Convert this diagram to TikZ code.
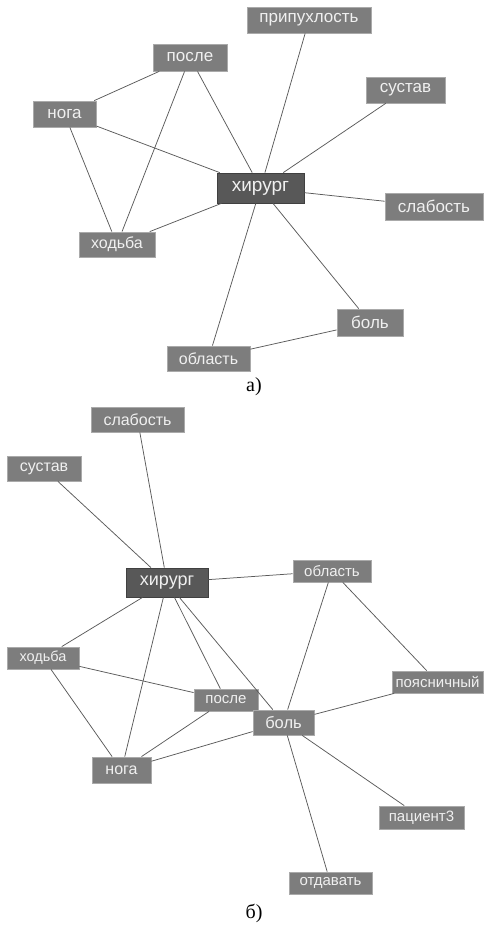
\documentclass[tikz,border=0pt]{standalone}
\usepackage{fontspec}
\setmainfont{Liberation Serif}
\setsansfont{Liberation Sans}
\usetikzlibrary{positioning}
\definecolor{boxgris}{RGB}{125,125,125}
\definecolor{bordgris}{RGB}{170,170,170}
\definecolor{centregris}{RGB}{88,88,88}
\definecolor{liengris}{RGB}{90,90,90}
\definecolor{textegris}{RGB}{240,240,240}
\newcommand{\boxfont}[1]{\sffamily\fontsize{#1}{#1}\selectfont}

\begin{document}
\begin{tikzpicture}[x=1pt, y=-1pt,
    box/.style={draw=bordgris, fill=boxgris, text=textegris, inner sep=0pt, line width=0.8pt},
    hub/.style={draw=black!75, fill=centregris, text=textegris, inner sep=0pt, line width=0.8pt},
    lien/.style={draw=liengris, line width=0.75pt}
]
\useasboundingbox (0,0) rectangle (483,925);

% Panel a
\node[box, minimum width=124, minimum height=26, font=\boxfont{17}] (pripux) at (309,20) {припухлость};
\node[box, minimum width=74, minimum height=27, font=\boxfont{17}] (posle) at (190,57.5) {после};
\node[box, minimum width=79, minimum height=26, font=\boxfont{17}] (sustav) at (405.5,90) {сустав};
\node[box, minimum width=63, minimum height=26, font=\boxfont{17}] (noga) at (64.5,114) {нога};
\node[hub, minimum width=87, minimum height=30, font=\boxfont{19}] (hirurg) at (260.5,188) {хирург};
\node[box, minimum width=98, minimum height=27, font=\boxfont{17}] (slab) at (434,206.5) {слабость};
\node[box, minimum width=76, minimum height=25, font=\boxfont{16}] (hodba) at (117,244.5) {ходьба};
\node[box, minimum width=66, minimum height=27, font=\boxfont{17}] (bol) at (370,322.5) {боль};
\node[box, minimum width=83, minimum height=25, font=\boxfont{16}] (oblast) at (208.5,358.5) {область};
\node[font=\fontsize{20}{20}\selectfont] (capa) at (254,387) {а)};

\draw[lien] (noga) -- (posle);
\draw[lien] (noga) -- (hirurg);
\draw[lien] (noga) -- (hodba);
\draw[lien] (posle) -- (hodba);
\draw[lien] (posle) -- (hirurg);
\draw[lien] (pripux) -- (hirurg);
\draw[lien] (sustav) -- (hirurg);
\draw[lien] (hirurg) -- (slab);
\draw[lien] (hirurg) -- (hodba);
\draw[lien] (hirurg) -- (oblast);
\draw[lien] (hirurg) -- (bol);
\draw[lien] (bol) -- (oblast);

% Panel b
\node[box, minimum width=93, minimum height=25, font=\boxfont{16}] (slabb) at (137.5,419.5) {слабость};
\node[box, minimum width=74, minimum height=25, font=\boxfont{16}] (sustavb) at (44,468.5) {сустав};
\node[hub, minimum width=82, minimum height=29, font=\boxfont{18}] (hirurgb) at (167,582.5) {хирург};
\node[box, minimum width=78, minimum height=22, font=\boxfont{15}] (oblastb) at (332,571) {область};
\node[box, minimum width=72, minimum height=22, font=\boxfont{14.5}] (hodbab) at (43,658) {ходьба};
\node[box, minimum width=91, minimum height=22, font=\boxfont{15}] (poyas) at (437.5,682) {поясничный};
\node[box, minimum width=64, minimum height=22, font=\boxfont{15}] (posleb) at (226,700) {после};
\node[box, minimum width=61, minimum height=25, font=\boxfont{16.5}] (bolb) at (283.5,722.5) {боль};
\node[box, minimum width=59, minimum height=26, font=\boxfont{16}] (nogab) at (121.5,770) {нога};
\node[box, minimum width=85, minimum height=23, font=\boxfont{15}] (pacient) at (421.5,817.5) {пациент3};
\node[box, minimum width=83, minimum height=22, font=\boxfont{15}] (otdav) at (330.5,883) {отдавать};
\node[font=\fontsize{20}{20}\selectfont] (capb) at (254,913) {б)};

\draw[lien] (slabb) -- (hirurgb);
\draw[lien] (sustavb) -- (hirurgb);
\draw[lien] (hirurgb) -- (oblastb);
\draw[lien] (hirurgb) -- (hodbab);
\draw[lien] (hirurgb) -- (nogab);
\draw[lien] (hirurgb) -- (posleb);
\draw[lien] (hirurgb) -- (bolb);
\draw[lien] (oblastb) -- (bolb);
\draw[lien] (oblastb) -- (poyas);
\draw[lien] (hodbab) -- (posleb);
\draw[lien] (hodbab) -- (nogab);
\draw[lien] (posleb) -- (nogab);
\draw[lien] (bolb) -- (nogab);
\draw[lien] (bolb) -- (poyas);
\draw[lien] (bolb) -- (pacient);
\draw[lien] (bolb) -- (otdav);
\end{tikzpicture}
\end{document}
